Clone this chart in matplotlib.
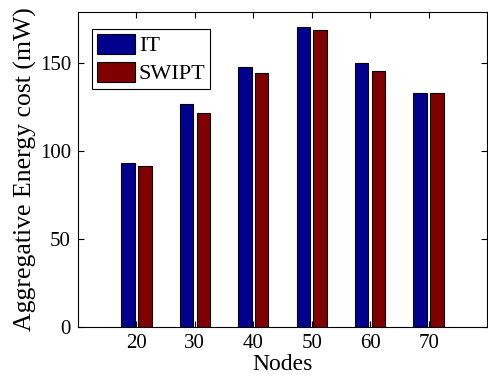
import numpy as np
import matplotlib
matplotlib.use('Agg')
import matplotlib.pyplot as plt

plt.rc('font', family='Liberation Serif', size=15)

nodes = [20, 30, 40, 50, 60, 70]
it_cost = [93, 127, 148, 170.5, 150, 133]
swipt_cost = [91.5, 121.5, 144.5, 168.5, 145.5, 133]

fig = plt.figure(figsize=(4.89, 3.77), dpi=100)
ax = fig.add_axes([78/489, 1 - 327/377, (487-78)/489, (327-12)/377])

x = np.array(nodes, dtype=float)
w = 2.3
ax.bar(x - 1.45, it_cost, w, color='#00008f', edgecolor='black', linewidth=0.8, label='IT')
ax.bar(x + 1.45, swipt_cost, w, color='#800000', edgecolor='black', linewidth=0.8, label='SWIPT')

ax.set_xlim(10, 80)
ax.set_ylim(0, 179)
ax.set_xticks(nodes)
ax.set_yticks([0, 50, 100, 150])
ax.tick_params(direction='in', top=True, right=True, length=4, pad=5)
ax.set_xlabel('Nodes', fontsize=17, labelpad=1)
ax.set_ylabel('Aggregative Energy cost (mW)', fontsize=18.5, labelpad=2)

leg = ax.legend(loc='upper left', bbox_to_anchor=(0.035, 0.945), fontsize=16,
                fancybox=False, edgecolor='black', framealpha=1,
                handlelength=1.7, handleheight=1.0, handletextpad=0.2,
                borderpad=0.2, labelspacing=0.25, borderaxespad=0)
leg.get_frame().set_linewidth(0.8)

fig.savefig('out.png', dpi=100)
